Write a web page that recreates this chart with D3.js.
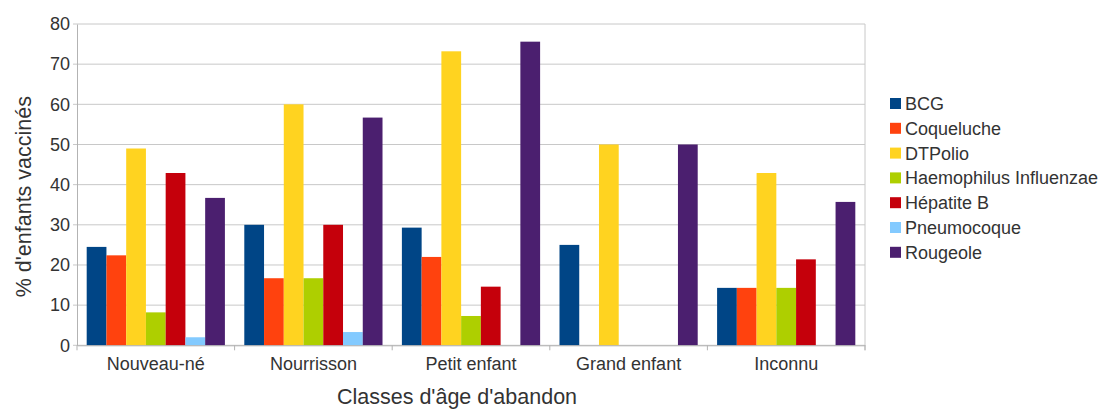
<!DOCTYPE html>
<html><head><meta charset="utf-8">
<script src="https://cdn.jsdelivr.net/npm/d3@7"></script>
<style>body{margin:0;background:#fff}svg{display:block;font-family:"Liberation Sans",Arial,sans-serif}</style>
</head><body><svg id="c" width="1103" height="409"></svg>
<script>
const categories = ["Nouveau-né","Nourrisson","Petit enfant","Grand enfant","Inconnu"];
const seriesNames = ["BCG","Coqueluche","DTPolio","Haemophilus Influenzae","Hépatite B","Pneumocoque","Rougeole"];
const colors = ["#004586","#ff420e","#ffd320","#aecf00","#c5000b","#83caff","#4b1f6f"];
const BCG = [24.5, 30.0, 29.3, 25.0, 14.3];
const Coqueluche = [22.4, 16.7, 22.0, 0, 14.3];
const DTPolio = [49.0, 60.0, 73.2, 50.0, 42.9];
const Haemophilus = [8.2, 16.7, 7.3, 0, 14.3];
const HepatiteB = [42.9, 30.0, 14.6, 0, 21.4];
const Pneumocoque = [2.0, 3.3, 0, 0, 0];
const Rougeole = [36.7, 56.7, 75.6, 50.0, 35.7];
const yTicks = [0,10,20,30,40,50,60,70,80];
const seriesValues = [BCG, Coqueluche, DTPolio, Haemophilus, HepatiteB, Pneumocoque, Rougeole];

const svg = d3.select("#c");
const L = 77, R = 865, T = 24, B = 345.3;
const x0 = d3.scaleBand().domain(categories).range([L, R]).padding(0);
const gap = x0.bandwidth() * 0.0615;
const x1 = d3.scaleBand().domain(seriesNames).range([gap, x0.bandwidth() - gap]).padding(0);
const y = d3.scaleLinear().domain([0, 80]).range([B, T]);

// gridlines
svg.append("g").selectAll("line").data(yTicks).join("line")
  .attr("x1", L - 4).attr("x2", R).attr("y1", d => y(d)).attr("y2", d => y(d))
  .attr("stroke", "#c8c8c8").attr("stroke-width", 1);
// right border
svg.append("line").attr("x1", R).attr("x2", R).attr("y1", T).attr("y2", B + 5)
  .attr("stroke", "#c8c8c8");

// bars
const g = svg.append("g");
categories.forEach((c, ci) => {
  seriesNames.forEach((s, si) => {
    const v = seriesValues[si][ci];
    if (v <= 0) return;
    g.append("rect")
      .attr("x", x0(c) + x1(s)).attr("width", x1.bandwidth())
      .attr("y", y(v)).attr("height", y(0) - y(v))
      .attr("fill", colors[si]);
  });
});

// y axis
const yAxis = d3.axisLeft(y).tickValues(yTicks).tickSize(0).tickPadding(7);
const ya = svg.append("g").attr("transform", `translate(${L},0)`).call(yAxis);
ya.select(".domain").attr("stroke", "#b3b3b3");
ya.selectAll("text").attr("font-size", 18).attr("fill", "#333").attr("font-family", "Liberation Sans, Arial, sans-serif");

// x axis
const xAxis = d3.axisBottom(x0).tickSize(0).tickPadding(12);
const xa = svg.append("g").attr("transform", `translate(0,${B})`).call(xAxis);
xa.select(".domain").attr("stroke", "#b3b3b3");
xa.selectAll("text").attr("font-size", 18).attr("fill", "#333").attr("font-family", "Liberation Sans, Arial, sans-serif");
// category separators
const seps = categories.map(c => x0(c)).concat([R]);
svg.append("g").selectAll("line").data(seps).join("line")
  .attr("x1", d => d).attr("x2", d => d).attr("y1", B).attr("y2", B + 5)
  .attr("stroke", "#b3b3b3");

// axis titles
svg.append("text").attr("x", 457).attr("y", 404).attr("text-anchor", "middle")
  .attr("font-size", 21.5).attr("fill", "#333").text("Classes d'âge d'abandon");
svg.append("text").attr("transform", `translate(31,${(T + B) / 2 + 12}) rotate(-90)`)
  .attr("text-anchor", "middle").attr("font-size", 21.5).attr("fill", "#333")
  .text("% d'enfants vaccinés");

// legend
const lg = svg.append("g").attr("transform", "translate(890,98)");
seriesNames.forEach((s, i) => {
  const row = lg.append("g").attr("transform", `translate(0,${i * 24.8})`);
  row.append("rect").attr("width", 11).attr("height", 11).attr("fill", colors[i]);
  row.append("text").attr("x", 15).attr("y", 12).attr("font-size", 18).attr("fill", "#333").text(s);
});
</script></body></html>
